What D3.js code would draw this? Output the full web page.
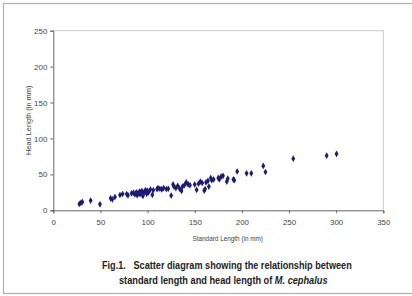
<!DOCTYPE html>
<html>
<head>
<meta charset="utf-8">
<script src="https://cdn.jsdelivr.net/npm/d3@7"></script>
<style>
  body { margin: 0; background: #fff; }
  svg { display: block; }
</style>
</head>
<body>
<script>
// Data (mm)
var standardLength = [27.6, 29.3, 30.8, 39.6, 49.5, 60.8, 62.6, 65.4, 70.7, 73.5, 77.8, 79.2, 83, 85, 86.5, 88, 89, 90, 91.5, 92,
  93, 94, 95, 96, 97, 98, 99, 100, 101, 103, 105, 106, 110, 111, 113, 115, 117, 120, 122, 125,
  127, 128, 130, 132, 134, 136, 137, 139, 141, 143, 145, 150, 152, 154, 156, 158, 160, 161, 162, 164,
  165, 167, 168, 170, 175, 176, 178, 180, 184, 185, 191, 192, 195, 205, 210, 222.7, 225, 254.5, 289.9, 300.4];
var headLength = [8.8, 10.2, 11.6, 13.5, 8.3, 16.7, 15.3, 18.5, 21.3, 22.7, 22.7, 20.9, 23.5, 24.5, 22, 25, 21, 24, 26, 22.5,
  25, 27, 20, 24, 26.5, 28, 23, 27, 25, 29, 21.5, 28, 29.5, 31, 30, 29, 31, 29.5, 30, 20.5,
  36, 33, 31, 34, 30, 27, 33, 35, 39, 36, 35, 36, 28.5, 37, 40, 38, 27.5, 29.5, 39, 41,
  33, 45, 42, 43, 45, 43, 47, 48, 40, 44, 43, 42, 54, 51.5, 51.5, 61.7, 53.3, 71.9, 76, 78.4];
var xTicks = [0, 50, 100, 150, 200, 250, 300, 350];
var yTicks = [0, 50, 100, 150, 200, 250];

var W = 412, H = 296;
var plot = {left: 53.3, right: 383.3, top: 30.7, bottom: 210.3};
var FONT = "'Liberation Sans', Arial, sans-serif";

var svg = d3.select("body").append("svg")
  .attr("width", W)
  .attr("height", H);

// squeeze a text horizontally so it starts at x0 and is w wide (narrow-font look)
function squeeze(t, x0, yb, w) {
  var k = w / t.node().getBBox().width;
  t.attr("transform", "translate(" + x0 + "," + yb + ") scale(" + k + ",1)");
  return t;
}

// outer page frame
svg.append("rect")
  .attr("x", 3.5).attr("y", 3.5)
  .attr("width", W + 10).attr("height", 290)
  .attr("fill", "none")
  .attr("stroke", "#b0b0b0")
  .attr("stroke-width", 1.2);

var x = d3.scaleLinear().domain([0, 350]).range([plot.left, plot.right]);
var y = d3.scaleLinear().domain([0, 250]).range([plot.bottom, plot.top]);

// plot area border (light)
svg.append("path")
  .attr("d", "M" + plot.left + "," + plot.top + "H" + plot.right + "V" + plot.bottom)
  .attr("fill", "none")
  .attr("stroke", "#c8c8c8")
  .attr("stroke-width", 1);

var xAxis = svg.append("g")
  .attr("transform", "translate(0," + plot.bottom + ")")
  .call(d3.axisBottom(x).tickValues(xTicks).tickSize(3).tickPadding(6));

var yAxis = svg.append("g")
  .attr("transform", "translate(" + plot.left + ",0)")
  .call(d3.axisLeft(y).tickValues(yTicks).tickSize(3).tickPadding(3));

[xAxis, yAxis].forEach(function (g) {
  g.select(".domain").attr("stroke", "#666");
  g.selectAll(".tick line").attr("stroke", "#666");
  g.selectAll(".tick text")
    .attr("fill", "#444")
    .attr("textLength", function (d) { return String(d).length * 4.4; })
    .attr("lengthAdjust", "spacingAndGlyphs")
    .style("font-family", FONT)
    .style("font-size", "8px");
});

// points
svg.append("g").selectAll("path")
  .data(standardLength)
  .enter().append("path")
  .attr("transform", function (d, i) { return "translate(" + x(d) + "," + y(headLength[i]) + ")"; })
  .attr("d", d3.symbol().type(d3.symbolDiamond).size(13))
  .attr("fill", "#1c1c78");

// axis titles
var xt = svg.append("text")
  .style("font-family", FONT)
  .style("font-size", "7.5px")
  .attr("fill", "#444")
  .text("Standard Length (in mm)");
squeeze(xt, 192.5, 241, 71);

var yt = svg.append("text")
  .style("font-family", FONT)
  .style("font-size", "7.5px")
  .attr("fill", "#444")
  .text("Head Length (in mm)");
var k = 70 / yt.node().getBBox().width;
yt.attr("transform", "translate(31,155) rotate(-90) scale(" + k + ",1)");

// caption
function caption(yb) {
  return svg.append("text")
    .attr("xml:space", "preserve")
    .style("font-family", FONT)
    .style("font-size", "11px")
    .style("font-weight", "bold")
    .attr("fill", "#222");
}
var c1 = caption().text("Fig.1.   Scatter diagram showing the relationship between");
squeeze(c1, 102, 269, 250);
var c2 = caption();
c2.append("tspan").text("standard length and head length of ");
c2.append("tspan").style("font-style", "italic").text("M. cephalus");
squeeze(c2, 119, 284, 209);
</script>
</body>
</html>
